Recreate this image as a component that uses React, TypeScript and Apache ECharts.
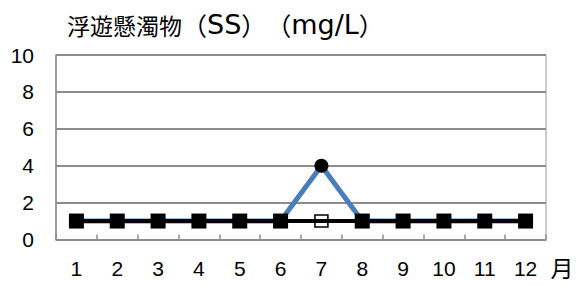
import React, { useEffect, useRef } from "react";
import * as echarts from "echarts";

const months = ["1", "2", "3", "4", "5", "6", "7", "8", "9", "10", "11", "12"];
const seriesA = [1, 1, 1, 1, 1, 1, 4, 1, 1, 1, 1, 1];
const seriesB = [1, 1, 1, 1, 1, 1, 1, 1, 1, 1, 1, 1];
const hollowIndex = 6;
const titleMain = "浮遊懸濁物";
const titleParts = ["SS", "mg/L"];
const unitText = "月";

export default function App() {
  const ref = useRef<HTMLDivElement>(null);
  useEffect(() => {
    if (!ref.current) return;
    const chart = echarts.init(ref.current, null, { renderer: "svg" });
    const font = "'Liberation Sans', 'Noto Sans CJK JP', sans-serif";
    const cjk = "'Noto Sans CJK JP', sans-serif";
    const latin = "'DejaVu Sans', 'Noto Sans CJK JP', sans-serif";
    const bData = seriesB.map((v, i) =>
      i === hollowIndex
        ? {
            value: v,
            symbol: "rect",
            symbolSize: [13, 12],
            itemStyle: { color: "rgba(255,255,255,0)", borderColor: "#000", borderWidth: 1.5 },
          }
        : v
    );
    const titleRich =
      `{c|${titleMain}}` + titleParts.map((p) => `{p|（}{l|${p}}{p|）}`).join("");
    chart.setOption({
      animation: false,
      backgroundColor: "#fff",
      title: {
        text: titleRich,
        left: 62,
        top: 6,
        textStyle: {
          fontSize: 23,
          fontWeight: "normal",
          color: "#000",
          rich: {
            c: { fontSize: 23, fontFamily: cjk, color: "#000" },
            p: { fontSize: 25, fontFamily: cjk, color: "#000" },
            l: { fontSize: 27, fontFamily: latin, color: "#000" },
          },
        },
      },
      grid: {
        left: 56,
        right: 33,
        top: 55,
        bottom: 45.5,
        show: true,
        borderColor: "#9a9a9a",
        borderWidth: 1,
      },
      xAxis: {
        type: "category",
        data: months,
        boundaryGap: true,
        axisLine: { show: true, lineStyle: { color: "#8c8c8c", width: 1.5 } },
        axisTick: { show: true, inside: true, length: 5, lineStyle: { color: "#8c8c8c", width: 1.5 } },
        axisLabel: { color: "#000", fontSize: 21, margin: 18, fontFamily: font },
        splitLine: { show: false },
      },
      yAxis: {
        type: "value",
        min: 0,
        max: 10,
        interval: 2,
        axisLine: { show: true, lineStyle: { color: "#8c8c8c", width: 1.5 } },
        axisTick: { show: false },
        axisLabel: { color: "#000", fontSize: 21, margin: 22, fontFamily: font },
        splitLine: { show: true, lineStyle: { color: "#8c8c8c", width: 2 } },
      },
      graphic: [
        {
          type: "text",
          x: 562,
          y: 269,
          style: {
            text: unitText,
            fontSize: 23,
            fill: "#000",
            fontFamily: font,
            align: "center",
            verticalAlign: "middle",
          },
        },
      ],
      series: [
        {
          type: "line",
          data: seriesA,
          symbol: "circle",
          symbolSize: 14,
          itemStyle: { color: "#000" },
          lineStyle: { color: "#4A7EBB", width: 5 },
          z: 2,
        },
        {
          type: "line",
          data: bData,
          symbol: "rect",
          symbolSize: 15,
          itemStyle: { color: "#000" },
          lineStyle: { color: "#000", width: 4 },
          z: 3,
        },
      ],
    });
    return () => chart.dispose();
  }, []);
  return <div ref={ref} style={{ position: "fixed", left: 0, top: 0, width: 579, height: 285 }} />;
}
